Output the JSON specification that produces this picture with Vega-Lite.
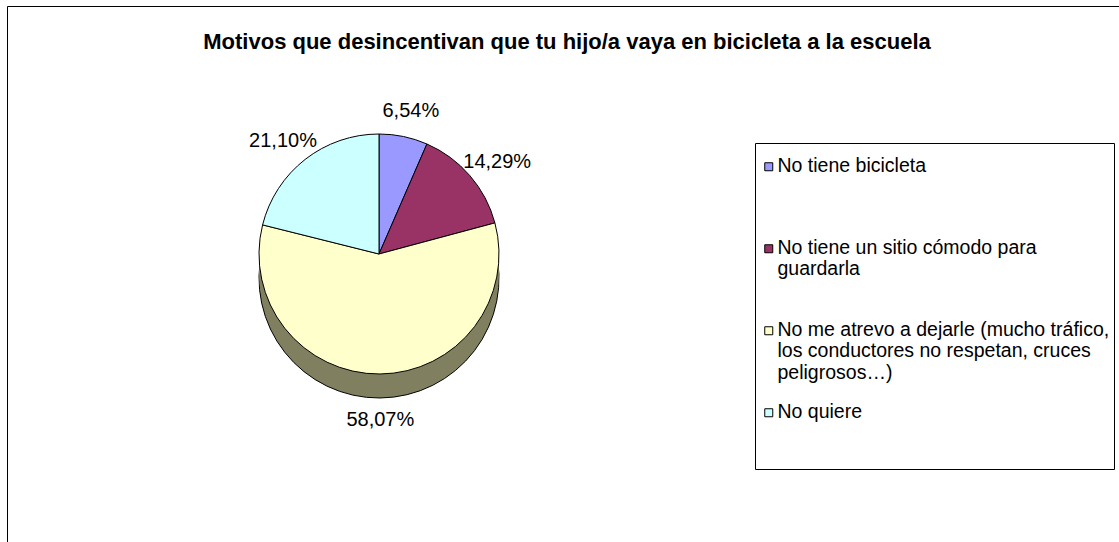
{
  "$schema": "https://vega.github.io/schema/vega-lite/v6.json",
  "width": 1119,
  "height": 542,
  "autosize": {"type": "fit", "contains": "padding"},
  "padding": {"left": 7, "top": 6, "right": -2, "bottom": -2},
  "background": "white",
  "title": {
    "text": "Motivos que desincentivan que tu hijo/a vaya en bicicleta a la escuela",
    "font": "Liberation Sans",
    "fontSize": 22,
    "fontWeight": "bold",
    "color": "#000",
    "anchor": "middle",
    "offset": -48,
    "dx": 3
  },
  "data": {
    "values": [
      {"motivo": "No tiene bicicleta", "orden": 1, "valor": 0.0654},
      {"motivo": "No tiene un sitio cómodo para guardarla", "orden": 2, "valor": 0.1429},
      {"motivo": "No me atrevo a dejarle (mucho tráfico, los conductores no respetan, cruces peligrosos…)", "orden": 3, "valor": 0.5807},
      {"motivo": "No quiere", "orden": 4, "valor": 0.2110}
    ]
  },
  "encoding": {
    "theta": {"field": "valor", "type": "quantitative", "stack": true},
    "order": {"field": "orden", "type": "quantitative"},
    "x": {"value": 372},
    "y": {"value": 248}
  },
  "layer": [
    {"mark": {"type": "arc", "radius": 120, "yOffset": 24, "fill": "#808060", "stroke": "#000", "strokeWidth": 1}},
    {"mark": {"type": "arc", "radius": 120, "yOffset": 18, "fill": "#808060", "strokeWidth": 0}},
    {"mark": {"type": "arc", "radius": 120, "yOffset": 12, "fill": "#808060", "strokeWidth": 0}},
    {"mark": {"type": "arc", "radius": 120, "yOffset": 6, "fill": "#808060", "strokeWidth": 0}},
    {
      "mark": {"type": "arc", "radius": 120, "stroke": "#000", "strokeWidth": 1, "opacity": 1},
      "encoding": {
        "color": {
          "field": "motivo",
          "type": "nominal",
          "sort": null,
          "scale": {
            "domain": [
              "No tiene bicicleta",
              "No tiene un sitio cómodo para guardarla",
              "No me atrevo a dejarle (mucho tráfico, los conductores no respetan, cruces peligrosos…)",
              "No quiere"
            ],
            "range": ["#9999FF", "#993366", "#FFFFCC", "#CCFFFF"]
          },
          "legend": {
            "orient": "none",
            "legendX": 748,
            "legendY": 137,
            "title": null,
            "labelExpr": "datum.label == 'No tiene bicicleta' ? ['No tiene bicicleta', ' ', ' '] : datum.label == 'No quiere' ? ['No quiere', ' ', ' '] : datum.label == 'No tiene un sitio cómodo para guardarla' ? ['No tiene un sitio cómodo para', 'guardarla', ' '] : ['No me atrevo a dejarle (mucho tráfico,', 'los conductores no respetan, cruces', 'peligrosos…)']"
          }
        }
      }
    },
    {
      "mark": {"type": "text", "radius": 156, "yOffset": 10, "font": "Liberation Sans", "fontSize": 20, "color": "#000"},
      "encoding": {"text": {"field": "valor", "type": "quantitative", "format": ".2%"}}
    }
  ],
  "config": {
    "locale": {"number": {"decimal": ",", "thousands": ".", "grouping": [3], "currency": ["", " €"]}},
    "view": {"stroke": "#000", "strokeWidth": 1},
    "legend": {
      "symbolType": "M-1,1.5L1,1.5L1,3.5L-1,3.5Z",
      "symbolSize": 64,
      "symbolStrokeColor": "#000",
      "symbolStrokeWidth": 1,
      "symbolOpacity": 1,
      "labelFont": "Liberation Sans",
      "labelFontSize": 19.5,
      "labelColor": "#000",
      "labelBaseline": "top",
      "labelOffset": -1,
      "labelLimit": 400,
      "padding": 4,
      "rowPadding": 10,
      "strokeColor": "#000",
      "fillColor": "#fff"
    }
  }
}
